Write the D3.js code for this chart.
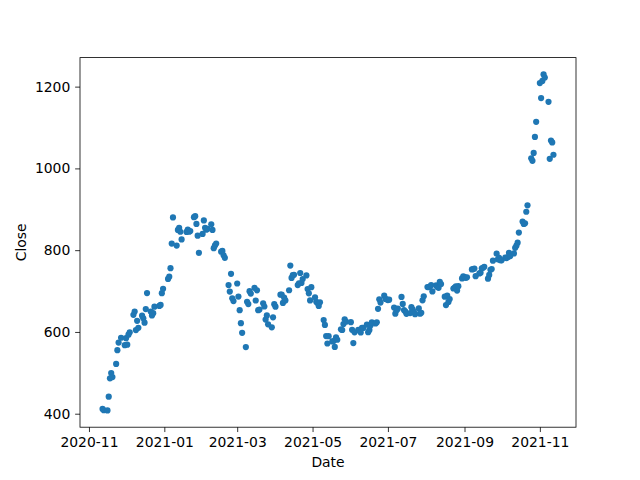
<!DOCTYPE html>
<html>
<head>
<meta charset="utf-8">
<script src="https://cdn.jsdelivr.net/npm/d3@7"></script>
<style>
html,body{margin:0;padding:0;background:#fff;}
svg{display:block;font-family:"DejaVu Sans",sans-serif;}
</style>
</head>
<body>
<svg id="chart" width="640" height="480"></svg>
<script>
const dates = [
"2020-11-12","2020-11-13","2020-11-16","2020-11-17","2020-11-18","2020-11-19","2020-11-20","2020-11-23","2020-11-24","2020-11-25","2020-11-27","2020-11-30",
"2020-12-01","2020-12-02","2020-12-03","2020-12-04","2020-12-07","2020-12-08","2020-12-09","2020-12-10","2020-12-11","2020-12-14","2020-12-15","2020-12-16","2020-12-17","2020-12-18","2020-12-21","2020-12-22","2020-12-23","2020-12-24","2020-12-28","2020-12-29","2020-12-30","2020-12-31",
"2021-01-04","2021-01-05","2021-01-06","2021-01-07","2021-01-08","2021-01-11","2021-01-12","2021-01-13","2021-01-14","2021-01-15","2021-01-19","2021-01-20","2021-01-21","2021-01-22","2021-01-25","2021-01-26","2021-01-27","2021-01-28","2021-01-29",
"2021-02-01","2021-02-02","2021-02-03","2021-02-04","2021-02-05","2021-02-08","2021-02-09","2021-02-10","2021-02-11","2021-02-12","2021-02-16","2021-02-17","2021-02-18","2021-02-19","2021-02-22","2021-02-23","2021-02-24","2021-02-25","2021-02-26",
"2021-03-01","2021-03-02","2021-03-03","2021-03-04","2021-03-05","2021-03-08","2021-03-09","2021-03-10","2021-03-11","2021-03-12","2021-03-15","2021-03-16","2021-03-17","2021-03-18","2021-03-19","2021-03-22","2021-03-23","2021-03-24","2021-03-25","2021-03-26","2021-03-29","2021-03-30","2021-03-31",
"2021-04-01","2021-04-05","2021-04-06","2021-04-07","2021-04-08","2021-04-09","2021-04-12","2021-04-13","2021-04-14","2021-04-15","2021-04-16","2021-04-19","2021-04-20","2021-04-21","2021-04-22","2021-04-23","2021-04-26","2021-04-27","2021-04-28","2021-04-29","2021-04-30",
"2021-05-03","2021-05-04","2021-05-05","2021-05-06","2021-05-07","2021-05-10","2021-05-11","2021-05-12","2021-05-13","2021-05-14","2021-05-17","2021-05-18","2021-05-19","2021-05-20","2021-05-21","2021-05-24","2021-05-25","2021-05-26","2021-05-27","2021-05-28",
"2021-06-01","2021-06-02","2021-06-03","2021-06-04","2021-06-07","2021-06-08","2021-06-09","2021-06-10","2021-06-11","2021-06-14","2021-06-15","2021-06-16","2021-06-17","2021-06-18","2021-06-21","2021-06-22","2021-06-23","2021-06-24","2021-06-25","2021-06-28","2021-06-29","2021-06-30",
"2021-07-01","2021-07-02","2021-07-06","2021-07-07","2021-07-08","2021-07-09","2021-07-12","2021-07-13","2021-07-14","2021-07-15","2021-07-16","2021-07-19","2021-07-20","2021-07-21","2021-07-22","2021-07-23","2021-07-26","2021-07-27","2021-07-28","2021-07-29","2021-07-30",
"2021-08-02","2021-08-03","2021-08-04","2021-08-05","2021-08-06","2021-08-09","2021-08-10","2021-08-11","2021-08-12","2021-08-13","2021-08-16","2021-08-17","2021-08-18","2021-08-19","2021-08-20","2021-08-23","2021-08-24","2021-08-25","2021-08-26","2021-08-27","2021-08-30","2021-08-31",
"2021-09-01","2021-09-02","2021-09-03","2021-09-07","2021-09-08","2021-09-09","2021-09-10","2021-09-13","2021-09-14","2021-09-15","2021-09-16","2021-09-17","2021-09-20","2021-09-21","2021-09-22","2021-09-23","2021-09-24","2021-09-27","2021-09-28","2021-09-29","2021-09-30",
"2021-10-01","2021-10-04","2021-10-05","2021-10-06","2021-10-07","2021-10-08","2021-10-11","2021-10-12","2021-10-13","2021-10-14","2021-10-15","2021-10-18","2021-10-19","2021-10-20","2021-10-21","2021-10-22","2021-10-25","2021-10-26","2021-10-27","2021-10-28","2021-10-29",
"2021-11-01","2021-11-02","2021-11-03","2021-11-04","2021-11-05","2021-11-08","2021-11-09","2021-11-10","2021-11-11","2021-11-12"
];
const closes = [
411.76,408.50,408.09,441.61,486.64,499.27,489.61,521.85,555.38,574.00,585.76,567.60,
584.76,568.82,593.38,599.04,641.76,649.88,604.48,627.07,609.99,639.83,633.25,622.77,655.90,695.00,649.86,640.34,645.98,661.77,663.69,665.99,694.78,705.67,
729.77,735.11,755.98,816.04,880.02,811.19,849.44,854.41,845.00,826.16,844.55,850.45,844.99,846.64,880.80,883.09,864.16,835.43,793.53,
839.81,872.79,854.69,849.99,852.23,863.42,849.46,804.82,811.66,816.12,796.22,798.15,787.38,781.30,714.50,698.84,742.02,682.22,675.50,
718.43,686.44,653.20,621.44,597.95,563.00,673.58,668.06,699.60,693.73,707.94,676.88,701.81,653.16,654.87,670.00,662.16,630.27,640.39,618.71,611.29,635.62,667.93,
661.75,691.05,691.62,670.97,683.80,677.02,701.98,762.32,732.23,738.85,739.78,714.63,718.99,744.12,719.69,729.40,738.20,704.74,694.40,677.00,709.44,
684.90,673.60,670.94,663.54,672.37,629.04,617.20,589.89,571.69,589.74,576.83,577.87,563.46,586.78,580.88,606.44,604.69,619.13,630.85,625.22,
623.90,605.12,572.84,599.05,605.13,603.59,598.78,610.12,609.89,617.69,599.36,604.87,616.60,623.31,620.83,623.71,656.57,679.82,671.87,688.72,680.76,679.70,
677.92,678.90,659.58,644.65,652.81,656.95,685.70,668.54,653.38,650.60,644.22,646.22,660.50,655.29,649.26,643.38,657.62,644.78,646.98,677.35,687.20,
709.67,709.74,710.92,714.63,699.10,713.76,709.99,707.82,722.25,717.17,686.17,665.71,688.99,673.47,680.26,706.30,708.49,711.20,701.16,711.92,730.91,735.72,
734.09,732.39,733.57,752.92,753.87,754.86,736.27,743.00,744.49,755.83,756.99,759.49,730.17,739.38,751.94,753.64,774.39,791.36,777.56,781.31,775.48,
775.22,781.53,780.59,782.75,793.61,785.49,791.94,805.72,811.08,818.32,843.03,870.11,864.27,865.80,894.00,909.68,1024.86,1018.43,1037.86,1077.04,1114.00,
1208.59,1172.00,1213.86,1229.91,1222.09,1162.94,1023.50,1067.95,1063.51,1033.42
];
const yTicks = [400, 600, 800, 1000, 1200];
const xTickLabels = ["2020-11","2021-01","2021-03","2021-05","2021-07","2021-09","2021-11"];
const xLabel = "Date";
const yLabel = "Close";

const parse = d3.utcParse("%Y-%m-%d");
const data = dates.map((d, i) => ({date: parse(d), close: closes[i]}));

const plotLeft = 80, plotRight = 576, plotTop = 57.6, plotBottom = 427.2;
const svg = d3.select("#chart");

const xExt = d3.extent(data, d => d.date.getTime());
const xPad = (xExt[1] - xExt[0]) * 0.05;
const x = d3.scaleUtc().domain([new Date(xExt[0] - xPad), new Date(xExt[1] + xPad)]).range([plotLeft, plotRight]);
const yExt = d3.extent(closes);
const yPad = (yExt[1] - yExt[0]) * 0.05;
const y = d3.scaleLinear().domain([yExt[0] - yPad, yExt[1] + yPad]).range([plotBottom, plotTop]);

const xTickDates = xTickLabels.map(s => d3.utcParse("%Y-%m")(s));
const xAxis = d3.axisBottom(x).tickValues(xTickDates).tickFormat(d3.utcFormat("%Y-%m")).tickSizeInner(4.86).tickSizeOuter(0).tickPadding(4.9);
const yAxis = d3.axisLeft(y).tickValues(yTicks).tickFormat(d3.format("d")).tickSizeInner(4.86).tickSizeOuter(0).tickPadding(4.9);

svg.append("g").selectAll("circle").data(data).join("circle")
  .attr("cx", d => x(d.date)).attr("cy", d => y(d.close)).attr("r", 3.1)
  .attr("fill", "#1f77b4");

const gx = svg.append("g").attr("transform", `translate(0,${plotBottom})`).call(xAxis);
const gy = svg.append("g").attr("transform", `translate(${plotLeft},0)`).call(yAxis);
[gx, gy].forEach(g => {
  g.select(".domain").remove();
  g.selectAll(".tick line").attr("stroke", "#000").attr("stroke-width", 0.8);
  g.selectAll(".tick text").attr("fill", "#000").attr("font-size", 13.9).attr("font-family", "DejaVu Sans, sans-serif");
});

svg.append("rect").attr("x", plotLeft).attr("y", plotTop).attr("width", plotRight - plotLeft).attr("height", plotBottom - plotTop)
  .attr("fill", "none").attr("stroke", "#000").attr("stroke-width", 0.8);

svg.append("text").attr("x", (plotLeft + plotRight) / 2).attr("y", 467).attr("text-anchor", "middle")
  .attr("font-size", 13.9).attr("fill", "#000").text(xLabel);
svg.append("text").attr("transform", `translate(26,${(plotTop + plotBottom) / 2}) rotate(-90)`).attr("text-anchor", "middle")
  .attr("font-size", 13.9).attr("fill", "#000").text(yLabel);
</script>
</body>
</html>
